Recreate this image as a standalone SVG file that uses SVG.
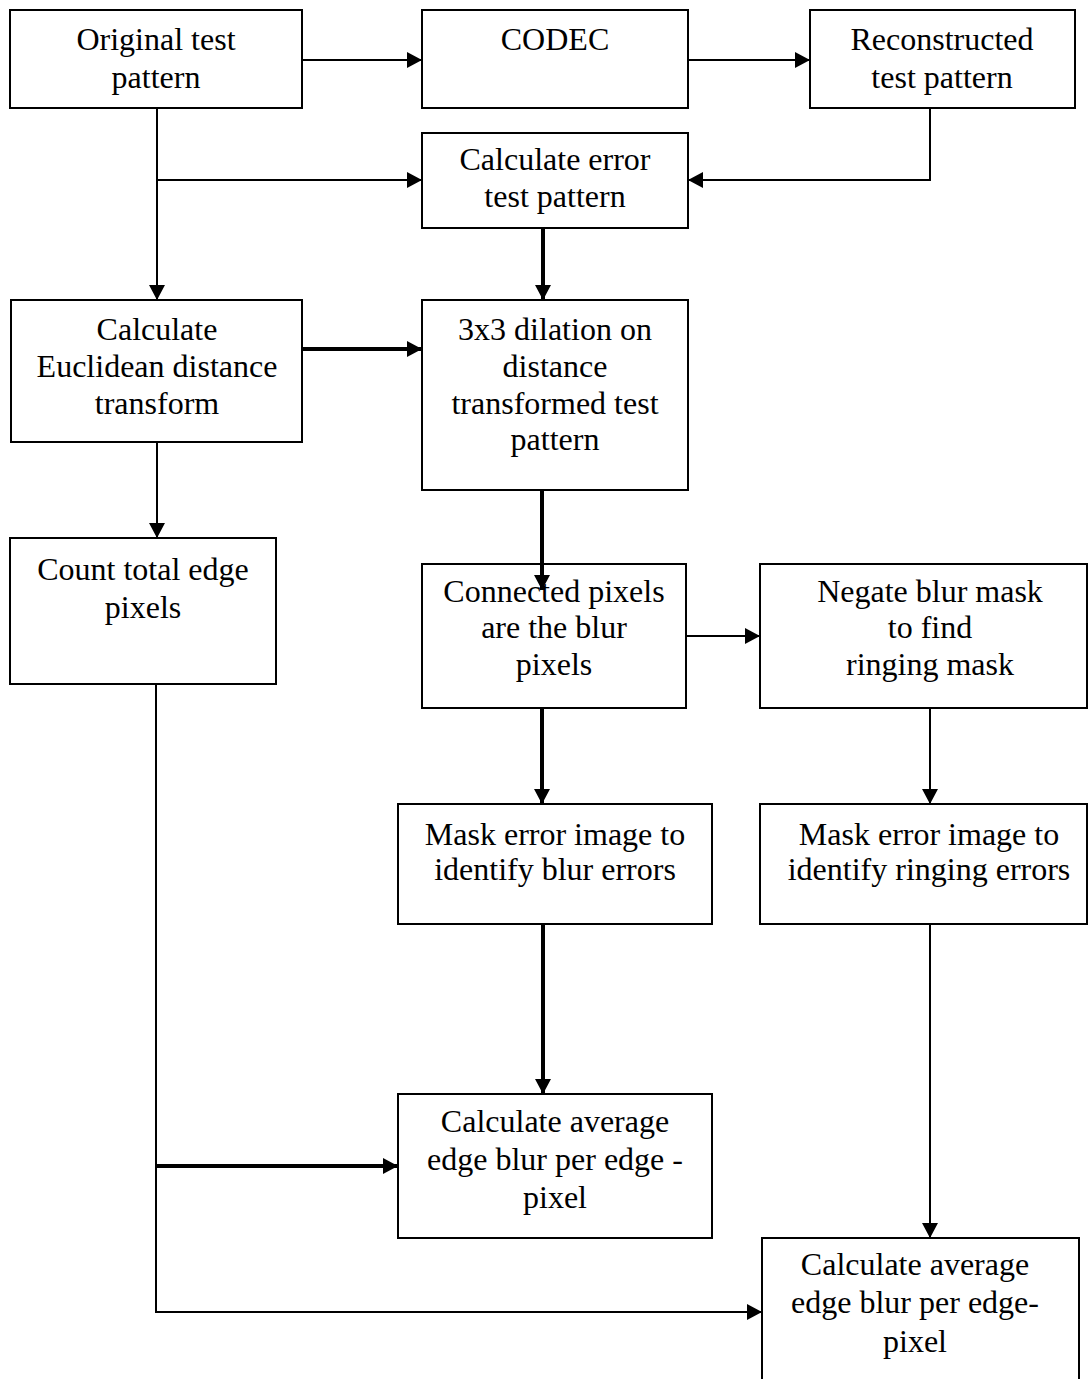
<svg xmlns="http://www.w3.org/2000/svg" width="1089" height="1379" viewBox="0 0 1089 1379">
  <style>
    .box { fill: #ffffff; stroke: #000000; stroke-width: 2; }
    .lbl { font-family: "Liberation Serif", "Times New Roman", serif; font-size: 32px; fill: #000000; text-anchor: middle; }
    .thin { fill: none; stroke: #000000; stroke-width: 2; }
    .thick { fill: none; stroke: #000000; stroke-width: 4; }
  </style>
  <defs>
    <marker id="arrow" markerUnits="userSpaceOnUse" markerWidth="15" markerHeight="16" refX="15" refY="8" orient="auto">
      <path d="M0,0 L15,8 L0,16 Z" fill="#000000"/>
    </marker>
  </defs>
  <rect width="1089" height="1379" fill="#ffffff"/>

  <g id="original">
    <rect class="box" x="10" y="10" width="292" height="98"/>
    <text class="lbl" x="156" y="50">Original test</text>
    <text class="lbl" x="156" y="88">pattern</text>
  </g>
  <g id="codec">
    <rect class="box" x="422" y="10" width="266" height="98"/>
    <text class="lbl" x="555" y="50">CODEC</text>
  </g>
  <g id="reconstructed">
    <rect class="box" x="810" y="10" width="265" height="98"/>
    <text class="lbl" x="942" y="50">Reconstructed</text>
    <text class="lbl" x="942" y="88">test pattern</text>
  </g>
  <g id="error">
    <rect class="box" x="422" y="133" width="266" height="95"/>
    <text class="lbl" x="555" y="170">Calculate error</text>
    <text class="lbl" x="555" y="207">test pattern</text>
  </g>
  <g id="euclidean">
    <rect class="box" x="11" y="300" width="291" height="142"/>
    <text class="lbl" x="157" y="340">Calculate</text>
    <text class="lbl" x="157" y="377">Euclidean distance</text>
    <text class="lbl" x="157" y="414">transform</text>
  </g>
  <g id="dilation">
    <rect class="box" x="422" y="300" width="266" height="190"/>
    <text class="lbl" x="555" y="340">3x3 dilation on</text>
    <text class="lbl" x="555" y="377">distance</text>
    <text class="lbl" x="555" y="414">transformed test</text>
    <text class="lbl" x="555" y="450">pattern</text>
  </g>
  <g id="count">
    <rect class="box" x="10" y="538" width="266" height="146"/>
    <text class="lbl" x="143" y="580">Count total edge</text>
    <text class="lbl" x="143" y="618">pixels</text>
  </g>
  <g id="connected">
    <rect class="box" x="422" y="564" width="264" height="144"/>
    <text class="lbl" x="554" y="602">Connected pixels</text>
    <text class="lbl" x="554" y="638">are the blur</text>
    <text class="lbl" x="554" y="675">pixels</text>
  </g>
  <g id="negate">
    <rect class="box" x="760" y="564" width="327" height="144"/>
    <text class="lbl" x="930" y="602">Negate blur mask</text>
    <text class="lbl" x="930" y="638">to find</text>
    <text class="lbl" x="930" y="675">ringing mask</text>
  </g>
  <g id="mask-blur">
    <rect class="box" x="398" y="804" width="314" height="120"/>
    <text class="lbl" x="555" y="845">Mask error image to</text>
    <text class="lbl" x="555" y="880">identify blur errors</text>
  </g>
  <g id="mask-ringing">
    <rect class="box" x="760" y="804" width="327" height="120"/>
    <text class="lbl" x="929" y="845">Mask error image to</text>
    <text class="lbl" x="929" y="880">identify ringing errors</text>
  </g>
  <g id="avg-blur">
    <rect class="box" x="398" y="1094" width="314" height="144"/>
    <text class="lbl" x="555" y="1132">Calculate average</text>
    <text class="lbl" x="555" y="1170">edge blur per edge -</text>
    <text class="lbl" x="555" y="1208">pixel</text>
  </g>
  <g id="avg-ringing">
    <rect class="box" x="762" y="1238" width="317" height="160"/>
    <text class="lbl" x="915" y="1275">Calculate average</text>
    <text class="lbl" x="915" y="1313">edge blur per edge-</text>
    <text class="lbl" x="915" y="1352">pixel</text>
  </g>

  <!-- drawn last: the dilation arrow runs into the box below it -->
  <g id="connectors">
    <path class="thin" d="M302,60 H422" marker-end="url(#arrow)"/>
    <path class="thin" d="M688,60 H810" marker-end="url(#arrow)"/>
    <path class="thin" d="M157,108 V300" marker-end="url(#arrow)"/>
    <path class="thin" d="M157,180 H422" marker-end="url(#arrow)"/>
    <path class="thin" d="M930,108 V180 H688" marker-end="url(#arrow)"/>
    <path class="thick" d="M543,228 V300" marker-end="url(#arrow)"/>
    <path class="thick" d="M302,349 H422" marker-end="url(#arrow)"/>
    <path class="thin" d="M157,442 V538" marker-end="url(#arrow)"/>
    <path class="thick" d="M542,490 V590" marker-end="url(#arrow)"/>
    <path class="thin" d="M686,636 H760" marker-end="url(#arrow)"/>
    <path class="thick" d="M542,708 V804" marker-end="url(#arrow)"/>
    <path class="thin" d="M930,708 V804" marker-end="url(#arrow)"/>
    <path class="thick" d="M543,924 V1094" marker-end="url(#arrow)"/>
    <path class="thin" d="M930,924 V1238" marker-end="url(#arrow)"/>
    <path class="thin" d="M156,684 V1312 H762" marker-end="url(#arrow)"/>
    <path class="thick" d="M156,1166 H398" marker-end="url(#arrow)"/>
  </g>
</svg>
